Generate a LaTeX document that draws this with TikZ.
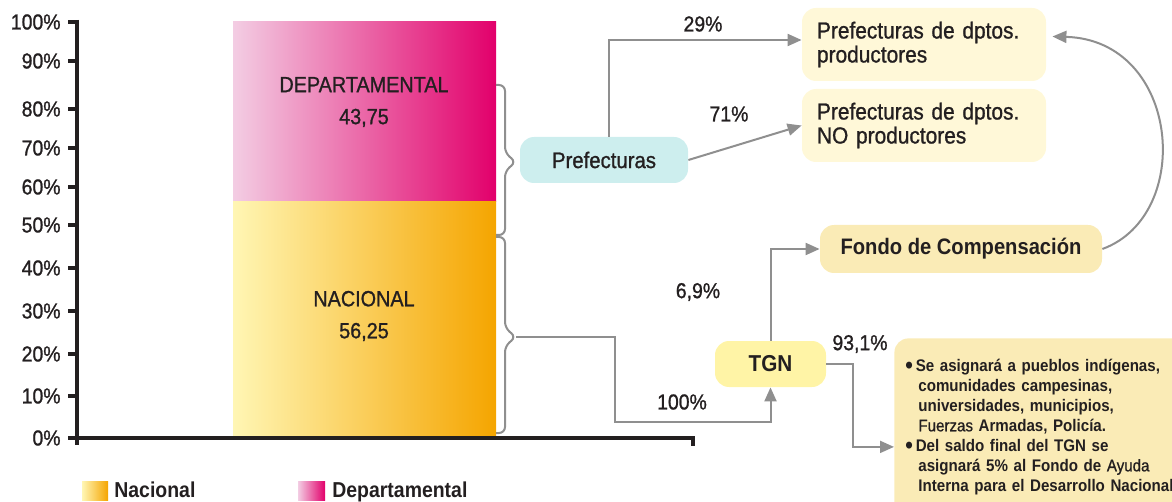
\documentclass[tikz,border=0pt]{standalone}
\usepackage{fontspec}
\setmainfont{Liberation Sans}[FakeStretch=0.9, UprightFeatures={FakeBold=1}]
\usepackage{tikz}
\usetikzlibrary{arrows.meta,positioning}

\definecolor{ink}{HTML}{231F20}
\definecolor{linegray}{HTML}{8F8F8F}
\definecolor{pinkL}{HTML}{F3CDE3}
\definecolor{pinkR}{HTML}{E2006B}
\definecolor{yelL}{HTML}{FFF6B4}
\definecolor{yelR}{HTML}{F5A500}
\definecolor{cyanbox}{HTML}{CDEEEE}
\definecolor{creambox}{HTML}{FFF8D8}
\definecolor{sandbox}{HTML}{FAEBB6}
\definecolor{tgnbox}{HTML}{FFF4A6}

\begin{document}
\begin{tikzpicture}[x=0.5pt,y=-0.5pt,text=ink,
    conn/.style={draw=linegray, line width=1pt, -{Triangle[length=7pt,width=6pt]}},
    brace/.style={draw=linegray, line width=1pt, rounded corners=3pt},
    axisline/.style={draw=ink, line width=2.3pt},
    box/.style={rounded corners=7pt, inner sep=0pt, align=center},
    lbl/.style={inner sep=0pt, font=\fontsize{10.8}{13}\selectfont},
    barlbl/.style={align=center, font=\fontsize{11}{16}\selectfont},
    legend/.style={inner sep=0pt, font=\bfseries\fontsize{10.8}{13}\selectfont}]
    \useasboundingbox (0,0) rectangle (1172,502);

    % Barra apilada
    \fill[left color=pinkL, right color=pinkR] (233,22) rectangle (496,202);
    \fill[left color=yelL, right color=yelR] (233,202) rectangle (496,436);
    \node[barlbl] (dep) at (364,102) {DEPARTAMENTAL\\43,75};
    \node[barlbl] (nac) at (364,316) {NACIONAL\\56,25};

    % Ejes
    \draw[axisline] (77,20) -- (77,445);
    \draw[axisline] (68,438) -- (693,438) -- (693,446);
    \foreach \pc/\yy in {0/438,10/396,20/354,30/311,40/268,50/225,60/187,70/148,80/109,90/61,100/22} {
        \draw[axisline] (68,\yy) -- (77,\yy);
        \node[lbl, anchor=east] (tick\pc) at (61,\yy) {\pc\%};
    }

    % Llaves
    \foreach \ya/\ym/\yb/\nm in {85/162/235/depTip, 237/337/433/nacTip} {
        \draw[brace] (496,\ya) -- (505,\ya) -- (505,\ym-9) -- (516,\ym) -- (505,\ym+9) -- (505,\yb) -- (496,\yb);
        \coordinate (\nm) at (516,\ym);
    }

    % Destinos
    \node[box, fill=cyanbox, minimum width=84pt, minimum height=23pt, font=\fontsize{11.3}{13}\selectfont] (pref) at (604,160) {Prefecturas};
    \node[box, fill=creambox, minimum width=122pt, minimum height=36.5pt, text width=107pt, align=left, font=\fontsize{11.6}{12}\selectfont] (prod) at (924,44.5) {Prefecturas de dptos.\\productores};
    \node[box, fill=creambox, minimum width=122pt, minimum height=36.5pt, text width=107pt, align=left, font=\fontsize{11.6}{12}\selectfont] (noprod) at (924,125.5) {Prefecturas de dptos.\\NO productores};
    \node[box, fill=sandbox, minimum width=141pt, minimum height=24pt, font=\bfseries\fontsize{11.2}{13}\selectfont] (fondo) at (961,249) {Fondo de Compensaci\'on};
    \node[box, fill=tgnbox, minimum width=55.5pt, minimum height=23pt, font=\bfseries\fontsize{11.5}{13}\selectfont] (tgn) at (770.5,364) {TGN};
    \node[box, fill=sandbox, anchor=north west, minimum width=148pt, minimum height=88.5pt, text width=137pt, align=left, font=\bfseries\fontsize{8.4}{10}\selectfont] (note) at (894,338) {%
        \raisebox{-1pt}{\large\textbullet}\,Se asignar\'a a pueblos ind\'igenas,\\
        \hspace*{6.5pt}comunidades campesinas,\\
        \hspace*{6.5pt}universidades, municipios,\\
        \hspace*{6.5pt}{\mdseries Fuerzas} Armadas, Polic\'ia.\\
        \raisebox{-1pt}{\large\textbullet}\,Del saldo final del TGN se\\
        \hspace*{6.5pt}asignar\'a 5\% al Fondo de {\mdseries Ayuda}\\
        \hspace*{6.5pt}Interna para el Desarrollo Nacional};

    % Flechas
    \draw[conn] ([xshift=2.5pt]pref.north) |- ([yshift=2.25pt]prod.west);
    \draw[conn] (pref.east) -- (noprod.west);
    \draw[conn] (nacTip) -- (615,337) -- (615,422) -| (tgn.south);
    \draw[conn] (tgn.north) |- (fondo.west);
    \draw[conn] (tgn.east) -- ++(27,0) |- ([yshift=-10pt]note.west);
    \draw[conn] (fondo.east) .. controls (1195,215) and (1180,40) .. ([xshift=3pt,yshift=4pt]prod.east);

    % Porcentajes
    \node[lbl] (p29) at (703,24) {29\%};
    \node[lbl] (p71) at (729,114) {71\%};
    \node[lbl] (p69) at (698,292) {6,9\%};
    \node[lbl] (p100) at (682,402) {100\%};
    \node[lbl] (p931) at (860,344) {93,1\%};

    % Leyenda
    \fill[left color=yelL, right color=yelR] (82,481) rectangle (108,500);
    \node[legend, anchor=base west] (legNac) at (114,497) {Nacional};
    \fill[left color=pinkL, right color=pinkR] (298,481) rectangle (325,500);
    \node[legend, anchor=base west] (legDep) at (332,497) {Departamental};
\end{tikzpicture}
\end{document}
